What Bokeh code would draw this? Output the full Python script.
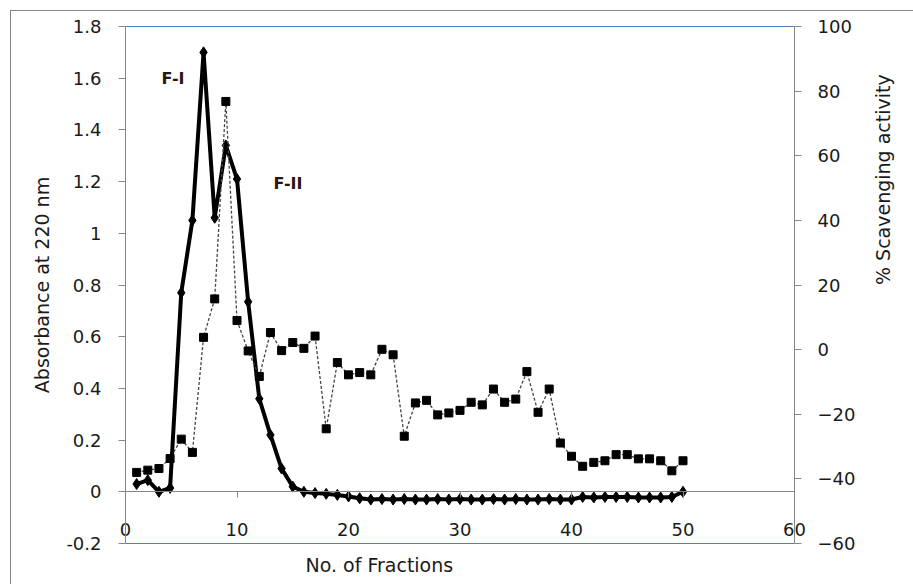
import math
from bokeh.plotting import figure
from bokeh.models import Range1d, LinearAxis, FixedTicker, Label, Title, InlineStyleSheet
from bokeh.embed import file_html
from bokeh.resources import INLINE

# ---- data ----
fractions = list(range(1, 51))
absorbance = [0.03, 0.045, 0.0, 0.015, 0.77, 1.05, 1.70, 1.06, 1.34, 1.21,
              0.735, 0.36, 0.22, 0.09, 0.02, 0.0, -0.005, -0.008, -0.012, -0.018,
              -0.025, -0.03, -0.028, -0.03, -0.028, -0.03, -0.03, -0.028, -0.03, -0.028,
              -0.03, -0.03, -0.028, -0.03, -0.028, -0.03, -0.03, -0.028, -0.03, -0.03,
              -0.02, -0.022, -0.02, -0.02, -0.02, -0.022, -0.022, -0.022, -0.02, 0.0]
scavenging = [-38.0, -37.3, -36.8, -33.7, -27.7, -31.8, 3.8, 15.7, 76.8, 9.0,
              -0.4, -8.3, 5.3, -0.3, 2.2, 0.4, 4.2, -24.5, -4.0, -7.8,
              -7.1, -7.8, 0.1, -1.6, -26.8, -16.5, -15.7, -20.2, -19.6, -18.8,
              -16.3, -17.1, -12.2, -16.3, -15.3, -6.8, -19.4, -12.2, -28.9, -33.0,
              -36.1, -34.9, -34.4, -32.5, -32.5, -33.8, -33.8, -34.4, -37.5, -34.4]

x_ticks = [0, 10, 20, 30, 40, 50, 60]
left_ticks = [-0.2, 0, 0.2, 0.4, 0.6, 0.8, 1.0, 1.2, 1.4, 1.6, 1.8]
left_tick_labels = ["-0.2", "0", "0.2", "0.4", "0.6", "0.8", "1", "1.2", "1.4", "1.6", "1.8"]
right_ticks = [-60, -40, -20, 0, 20, 40, 60, 80, 100]

x_title = "No. of Fractions"
left_title = "Absorbance at 220 nm"
right_title = "% Scavenging activity"
peak_names = ["F-I", "F-II"]

GRAY = "#868686"
BLUE = "#4F81BD"
FONT = "DejaVu Sans"
FS = "18px"
TFS = "19px"
TXT = "#1a1a1a"

border_css = InlineStyleSheet(css="""
:host {
  background:
    linear-gradient(#868686, #868686) 10px 10px / 1px 100% no-repeat,
    linear-gradient(#868686, #868686) 10px 10px / 100% 1px no-repeat,
    #ffffff;
}
""")

p = figure(width=913, height=584, output_backend="svg", toolbar_location=None,
           x_range=Range1d(0, 60), y_range=Range1d(-0.2, 1.8),
           x_axis_location=None, y_axis_location=None,
           min_border_left=125, min_border_right=119, min_border_top=26, min_border_bottom=40,
           stylesheets=[border_css])
p.xgrid.visible = False
p.ygrid.visible = False
p.outline_line_color = None
p.background_fill_color = "white"
p.border_fill_alpha = 0
p.extra_y_ranges = {"right": Range1d(-60, 100)}

def style_axis(ax):
    ax.axis_line_color = GRAY
    ax.major_tick_line_color = GRAY
    ax.minor_tick_line_color = None
    ax.major_tick_in = 0
    ax.major_tick_out = 7
    ax.major_label_text_font = FONT
    ax.major_label_text_font_size = FS
    ax.major_label_text_color = TXT
    ax.axis_label_text_font = FONT
    ax.axis_label_text_font_size = TFS
    ax.axis_label_text_font_style = "normal"
    ax.axis_label_text_color = TXT

# left axis
la = LinearAxis(ticker=FixedTicker(ticks=left_ticks), axis_label=left_title)
style_axis(la)
la.major_label_overrides = {t: s for t, s in zip(left_ticks, left_tick_labels)}
la.major_label_standoff = 17
la.axis_label_standoff = 10
p.add_layout(la, "left")

# right axis (line, ticks, labels)
ra = LinearAxis(y_range_name="right", ticker=FixedTicker(ticks=right_ticks))
style_axis(ra)
ra.major_label_standoff = 16
p.add_layout(ra, "right")

# right title carrier axis (invisible line), reads bottom to top
rt = LinearAxis(y_range_name="right", ticker=FixedTicker(ticks=[]), axis_label=right_title,
                bounds=(-60, 22.8))
style_axis(rt)
rt.axis_line_color = None
rt.major_tick_line_color = None
rt.major_tick_out = 0
rt.major_label_standoff = 0
rt.axis_label_standoff = 24
rt.axis_label_orientation = math.pi / 2
p.add_layout(rt, "right")

# bottom axis (labels drawn inside frame, blue line)
ba = LinearAxis(ticker=FixedTicker(ticks=x_ticks))
style_axis(ba)
ba.axis_line_color = BLUE
ba.major_tick_out = 0
ba.major_label_standoff = -21
p.add_layout(ba, "below")

# x title
p.add_layout(Title(text=x_title, align="left", offset=180, text_font=FONT, text_font_size=TFS,
                   text_font_style="normal", text_color=TXT, standoff=17), "below")

# zero axis with tick marks
za = LinearAxis(ticker=FixedTicker(ticks=x_ticks), fixed_location=0)
style_axis(za)
za.major_tick_out = 6
za.major_label_text_alpha = 0
p.add_layout(za, "below")

# top blue line
ta = LinearAxis(ticker=FixedTicker(ticks=[]))
ta.axis_line_color = BLUE
ta.major_tick_line_color = None
ta.minor_tick_line_color = None
ta.major_label_text_alpha = 0
p.add_layout(ta, "above")

# series
p.line(fractions, absorbance, line_color="black", line_width=4)
p.scatter(fractions, absorbance, marker="diamond", size=11, fill_color="black", line_color="black")
p.line(fractions, scavenging, y_range_name="right", line_color="#444444", line_width=1.3, line_dash="3 2")
p.scatter(fractions, scavenging, y_range_name="right", marker="square", size=8,
          fill_color="black", line_color="black")

# peak annotations
for txt, xx, yy in zip(peak_names, [4.26, 14.57], [1.597, 1.192]):
    p.add_layout(Label(x=xx, y=yy, text=txt, text_font=FONT, text_font_size="16px",
                       text_font_style="bold", text_color="#2a1510",
                       text_align="center", text_baseline="middle"))

open("out.html", "w").write(file_html(p, INLINE))
